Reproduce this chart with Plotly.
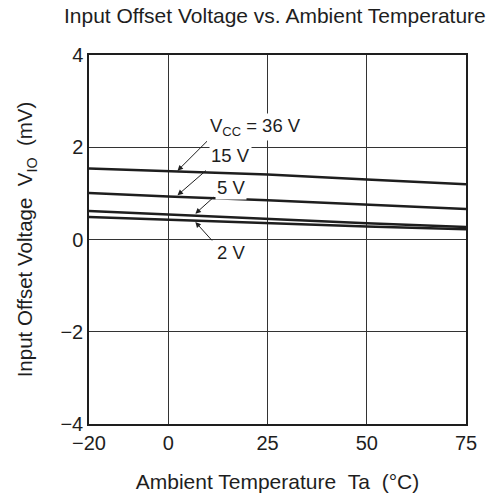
import plotly.graph_objects as go

temps = [-20, 0, 25, 50, 75]
v36 = [1.54, 1.48, 1.41, 1.30, 1.20]
v15 = [1.01, 0.93, 0.85, 0.75, 0.66]
v5 = [0.62, 0.54, 0.45, 0.35, 0.27]
v2 = [0.49, 0.43, 0.34, 0.28, 0.22]

x_ticks = [-20, 0, 25, 50, 75]
x_tick_labels = ["\u221220", "0", "25", "50", "75"]
y_ticks = [-4, -2, 0, 2, 4]
y_tick_labels = ["\u22124", "\u22122", "0", "2", "4"]

label_texts = ["V<sub>CC</sub> = 36 V", "15 V", "5 V", "2 V"]
arrow_tip_x = [2.3, 2.3, 6.8, 6.8]
arrow_tip_y = [1.49, 0.96, 0.56, 0.38]
label_x = [22.0, 15.7, 15.9, 15.9]
label_y = [2.43, 1.83, 1.13, -0.28]

FONT = "Liberation Sans, Arial, sans-serif"
NB = "\u00a0"
INK = "#1e1e1e"

fig = go.Figure()
for ys in [v36, v15, v5, v2]:
    fig.add_trace(go.Scatter(x=temps, y=ys, mode="lines",
                             line=dict(color=INK, width=2.5),
                             showlegend=False, hoverinfo="skip"))

tail_offsets = [(31, -31), (30, -26), (20, -18), (18, 20)]
for t, hx, hy, tx, ty, (dx, dy) in zip(label_texts, arrow_tip_x, arrow_tip_y,
                                        label_x, label_y, tail_offsets):
    fig.add_annotation(x=hx, y=hy, ax=dx, ay=dy, text="", showarrow=True,
                       arrowhead=2, arrowsize=1.1, arrowwidth=1, arrowcolor=INK)
    fig.add_annotation(x=tx, y=ty, text=t, showarrow=False,
                       font=dict(family=FONT, size=18.5, color=INK),
                       bgcolor="white", borderpad=1)

fig.update_layout(
    width=503, height=497,
    margin=dict(l=89, r=37, t=55, b=73),
    paper_bgcolor="white", plot_bgcolor="white",
    title=dict(text="Input Offset Voltage vs. Ambient Temperature",
               xref="paper", x=0.493, xanchor="center",
               yref="container", y=0.968, yanchor="middle",
               font=dict(family=FONT, size=21, color=INK)),
    font=dict(family=FONT, size=20, color=INK),
)
fig.update_xaxes(range=[-20, 75], tickvals=x_ticks, ticktext=x_tick_labels,
                 automargin=False,
                 showgrid=True, gridcolor="#333", gridwidth=1,
                 showline=True, linecolor=INK, linewidth=1.5, mirror=True,
                 zeroline=False, ticks="", ticklen=0,
                 tickfont=dict(family=FONT, size=20),
                 title=dict(text="Ambient Temperature" + NB * 2 + "Ta" + NB * 2 + "(\u00b0C)",
                            font=dict(family=FONT, size=21), standoff=22))
fig.update_yaxes(range=[-4, 4], tickvals=y_ticks, ticktext=y_tick_labels,
                 automargin=False,
                 showgrid=True, gridcolor="#333", gridwidth=1,
                 showline=True, linecolor=INK, linewidth=1.5, mirror=True,
                 zeroline=False, ticks="", ticklen=0,
                 tickfont=dict(family=FONT, size=20),
                 title=dict(text="Input Offset Voltage" + NB * 2 + "V<sub>IO</sub>" + NB * 2 + "(mV)",
                            font=dict(family=FONT, size=20.5), standoff=22))

fig.write_html("out.html")
